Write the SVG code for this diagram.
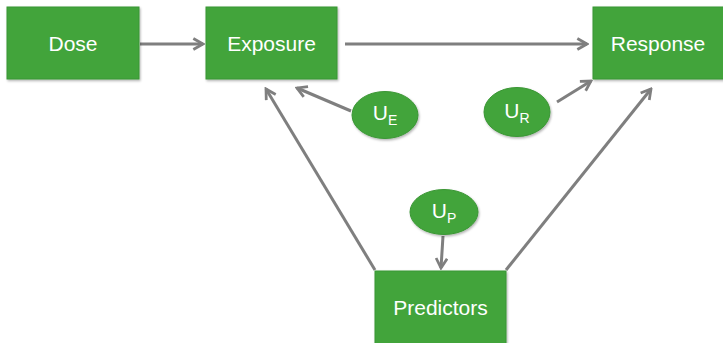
<svg xmlns="http://www.w3.org/2000/svg" width="723" height="343" viewBox="0 0 723 343">
<defs>
<style>
.box{fill:#42a43b;stroke:#3a9634;stroke-width:1}
.ell{fill:#42a43b;stroke:#3a9634;stroke-width:1}
.lbl{font-family:"Liberation Sans",Arial,sans-serif;font-size:21px;fill:#fff;text-anchor:middle}
.sub{font-size:14px}
.con line{stroke:#7f7f7f;stroke-width:3;marker-end:url(#ah)}
</style>
<marker id="ah" viewBox="0 0 10 10" refX="8.5" refY="5" markerWidth="4.6" markerHeight="4.6" orient="auto" markerUnits="strokeWidth">
<path d="M1.5,1 L8.5,5 L1.5,9" fill="none" stroke="#7f7f7f" stroke-width="2"/>
</marker>
<filter id="sh" x="-10%" y="-10%" width="130%" height="130%">
<feDropShadow dx="1" dy="1.5" stdDeviation="1.2" flood-color="#000" flood-opacity="0.3"/>
</filter>
</defs>
<g class="con">
<line x1="140" y1="44" x2="203" y2="44"/>
<line x1="345" y1="44" x2="587" y2="44"/>
<line x1="351" y1="111" x2="297" y2="88"/>
<line x1="375" y1="270" x2="266" y2="89"/>
<line x1="557" y1="102" x2="591" y2="81"/>
<line x1="506" y1="270" x2="651" y2="89"/>
<line x1="443" y1="236" x2="441" y2="268"/>
</g>
<g id="dose"><rect class="box" filter="url(#sh)" x="7" y="7" width="132" height="72"/><text class="lbl" x="73" y="51">Dose</text></g>
<g id="exposure"><rect class="box" filter="url(#sh)" x="206" y="7" width="131" height="72"/><text class="lbl" x="271.5" y="51">Exposure</text></g>
<g id="response"><rect class="box" filter="url(#sh)" x="593" y="7" width="132" height="72"/><text class="lbl" x="658" y="51">Response</text></g>
<g id="predictors"><rect class="box" filter="url(#sh)" x="375" y="271" width="131" height="74"/><text class="lbl" x="440.5" y="315">Predictors</text></g>
<g id="ue"><ellipse class="ell" filter="url(#sh)" cx="385" cy="115" rx="33" ry="23.5"/><text class="lbl" x="385" y="120">U<tspan class="sub" dy="5">E</tspan></text></g>
<g id="ur"><ellipse class="ell" filter="url(#sh)" cx="517" cy="112" rx="33" ry="24.5"/><text class="lbl" x="517" y="118">U<tspan class="sub" dy="5">R</tspan></text></g>
<g id="up"><ellipse class="ell" filter="url(#sh)" cx="444" cy="212" rx="34" ry="22.5"/><text class="lbl" x="444" y="218">U<tspan class="sub" dy="5">P</tspan></text></g>
</svg>
